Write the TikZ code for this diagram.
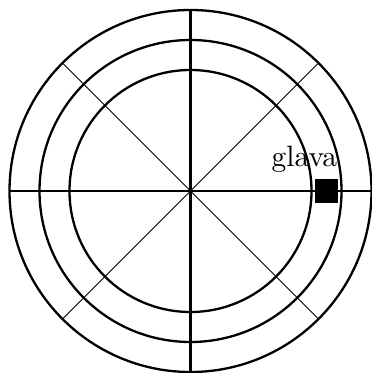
\documentclass[tikz,border=0pt]{standalone}
\usepackage{tikz}
\usetikzlibrary{calc}
\tikzset{
  track/.style={line width=0.85pt},
  axis/.style={line width=0.85pt},
  spoke/.style={line width=0.35pt},
  head/.style={draw=none, fill=black, minimum width=0.3cm, minimum height=0.31cm, inner sep=0pt}
}

\begin{document}
\begin{tikzpicture}[x=0.013cm, y=-0.013cm]
    \useasboundingbox (0,0) rectangle (372,373);
    \coordinate (O) at (190.5,191);
    \draw[track] (O) circle (181);
    \draw[track] (O) circle (151);
    \draw[track] (O) circle (121);
    \coordinate (W) at ($(O)+(180:181)$);
    \coordinate (E) at ($(O)+(0:181)$);
    \coordinate (N) at ($(O)+(90:181)$);
    \coordinate (S) at ($(O)+(270:181)$);
    \draw[axis] (W) -- (E);
    \draw[axis] (N) -- (S);
    \foreach \a in {45,135}
        \draw[spoke] ($(O)+(\a:181)$) -- ($(O)+(\a+180:181)$);
    \node[head] (glavabox) at ($(O)+(136,0)$) {};
    \node[anchor=base, inner sep=0pt, font=\fontsize{10.9}{13}\selectfont] (glava) at (304.4,166.7) {glava};
\end{tikzpicture}
\end{document}
